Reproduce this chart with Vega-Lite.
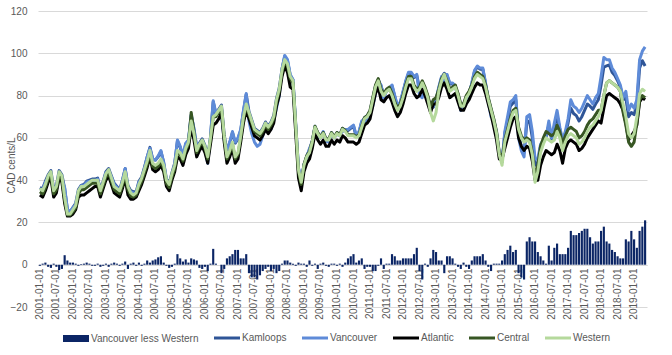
{
  "$schema": "https://vega.github.io/schema/vega-lite/v6.json",
  "width": 609,
  "height": 296,
  "autosize": {"type": "none"},
  "padding": {"left": 38, "top": 11, "right": 25, "bottom": 48},
  "background": "white",
  "config": {
    "view": {"stroke": null},
    "font": "Liberation Sans"
  },
  "data": {"values": [
    {"t":"2001-01-01","D":-0.5,"K":36.5,"V":35.5,"A":33,"C":34.5,"W":36},
    {"t":"2001-02-01","D":0.5,"K":36,"V":35.5,"A":32,"C":33.5,"W":35},
    {"t":"2001-03-01","D":1,"K":39.5,"V":39,"A":35,"C":36.5,"W":38},
    {"t":"2001-04-01","D":-1,"K":42.5,"V":41,"A":39,"C":40.5,"W":42},
    {"t":"2001-05-01","D":-1.5,"K":44.5,"V":42.5,"A":41,"C":42.5,"W":44},
    {"t":"2001-06-01","D":0.5,"K":36,"V":35.5,"A":32,"C":33.5,"W":35},
    {"t":"2001-07-01","D":-1,"K":37.5,"V":36,"A":34,"C":35.5,"W":37},
    {"t":"2001-08-01","D":-2.5,"K":44.5,"V":41.5,"A":41,"C":42.5,"W":44},
    {"t":"2001-09-01","D":-2,"K":42.5,"V":40,"A":39,"C":40.5,"W":42},
    {"t":"2001-10-01","D":4.5,"K":36,"V":36.5,"A":29,"C":30.5,"W":32},
    {"t":"2001-11-01","D":2,"K":26,"V":26,"A":23,"C":23.5,"W":24},
    {"t":"2001-12-01","D":1,"K":25,"V":25,"A":23,"C":23.5,"W":24},
    {"t":"2002-01-01","D":1,"K":27,"V":27,"A":24,"C":25,"W":26},
    {"t":"2002-02-01","D":0.5,"K":29,"V":28.5,"A":26,"C":27,"W":28},
    {"t":"2002-03-01","D":-0.5,"K":35.5,"V":34.5,"A":32,"C":33.5,"W":35},
    {"t":"2002-04-01","D":0.3,"K":37.5,"V":37.3,"A":33,"C":35.5,"W":37},
    {"t":"2002-05-01","D":0.5,"K":38,"V":37.5,"A":33,"C":35.5,"W":37},
    {"t":"2002-06-01","D":1,"K":39.5,"V":39,"A":34,"C":36.5,"W":38},
    {"t":"2002-07-01","D":0.5,"K":40,"V":39.5,"A":35,"C":37.5,"W":39},
    {"t":"2002-08-01","D":-0.5,"K":40.5,"V":39.5,"A":36,"C":38.5,"W":40},
    {"t":"2002-09-01","D":-0.5,"K":40.5,"V":39.5,"A":37,"C":38.5,"W":40},
    {"t":"2002-10-01","D":0.5,"K":41,"V":40.5,"A":37,"C":38.5,"W":40},
    {"t":"2002-11-01","D":-1,"K":35.5,"V":34,"A":32,"C":33.5,"W":35},
    {"t":"2002-12-01","D":-0.5,"K":39.5,"V":38.5,"A":36,"C":37.5,"W":39},
    {"t":"2003-01-01","D":0.5,"K":44,"V":43.5,"A":40,"C":41.5,"W":43},
    {"t":"2003-02-01","D":-1,"K":45.5,"V":44,"A":42,"C":43.5,"W":45},
    {"t":"2003-03-01","D":0.5,"K":42,"V":41.5,"A":38,"C":39.5,"W":41},
    {"t":"2003-04-01","D":1,"K":38.5,"V":38,"A":34,"C":35.5,"W":37},
    {"t":"2003-05-01","D":0.5,"K":37,"V":36.5,"A":33,"C":34.5,"W":36},
    {"t":"2003-06-01","D":-0.5,"K":35.5,"V":34.5,"A":32,"C":33.5,"W":35},
    {"t":"2003-07-01","D":0.5,"K":40,"V":39.5,"A":36,"C":37.5,"W":39},
    {"t":"2003-08-01","D":1.5,"K":45.5,"V":45.5,"A":41,"C":42.5,"W":44},
    {"t":"2003-09-01","D":-2,"K":37.5,"V":35,"A":33,"C":35.5,"W":37},
    {"t":"2003-10-01","D":0.5,"K":35,"V":34.5,"A":31,"C":32.5,"W":34},
    {"t":"2003-11-01","D":1,"K":34.5,"V":34,"A":31,"C":32,"W":33},
    {"t":"2003-12-01","D":-0.5,"K":34.5,"V":33.5,"A":32,"C":33,"W":34},
    {"t":"2004-01-01","D":1,"K":39.5,"V":39,"A":35,"C":36.5,"W":38},
    {"t":"2004-02-01","D":-0.5,"K":41.5,"V":40.5,"A":38,"C":39.5,"W":41},
    {"t":"2004-03-01","D":0.5,"K":46,"V":45.5,"A":42,"C":43.5,"W":45},
    {"t":"2004-04-01","D":2,"K":51,"V":51,"A":46,"C":47.5,"W":49},
    {"t":"2004-05-01","D":1,"K":55.5,"V":55,"A":51,"C":52.5,"W":54},
    {"t":"2004-06-01","D":2,"K":50,"V":50,"A":45,"C":46.5,"W":48},
    {"t":"2004-07-01","D":2.5,"K":49.5,"V":49.5,"A":44,"C":45.5,"W":47},
    {"t":"2004-08-01","D":3.5,"K":51,"V":51.5,"A":45,"C":46.5,"W":48},
    {"t":"2004-09-01","D":4,"K":53.5,"V":54,"A":47,"C":48.5,"W":50},
    {"t":"2004-10-01","D":1,"K":48.5,"V":48,"A":44,"C":45.5,"W":47},
    {"t":"2004-11-01","D":-0.5,"K":40.5,"V":39.5,"A":37,"C":38.5,"W":40},
    {"t":"2004-12-01","D":-1.5,"K":38.5,"V":36.5,"A":35,"C":36.5,"W":38},
    {"t":"2005-01-01","D":-1,"K":43.5,"V":42,"A":40,"C":41.5,"W":43},
    {"t":"2005-02-01","D":0.5,"K":48,"V":47.5,"A":44,"C":45.5,"W":47},
    {"t":"2005-03-01","D":5,"K":58.5,"V":59,"A":51,"C":53,"W":54},
    {"t":"2005-04-01","D":3,"K":55.5,"V":56,"A":50,"C":52,"W":53},
    {"t":"2005-05-01","D":1.5,"K":51,"V":51.5,"A":47,"C":49,"W":50},
    {"t":"2005-06-01","D":2.5,"K":57,"V":57.5,"A":52,"C":54,"W":55},
    {"t":"2005-07-01","D":1,"K":58.5,"V":59,"A":55,"C":57,"W":58},
    {"t":"2005-08-01","D":3,"K":70.5,"V":71,"A":65,"C":72,"W":68},
    {"t":"2005-09-01","D":2.5,"K":64,"V":64.5,"A":59,"C":63,"W":62},
    {"t":"2005-10-01","D":2,"K":55.5,"V":56,"A":51,"C":53,"W":54},
    {"t":"2005-11-01","D":-1.5,"K":57.5,"V":55.5,"A":54,"C":56,"W":57},
    {"t":"2005-12-01","D":-2,"K":59.5,"V":57,"A":56,"C":58,"W":59},
    {"t":"2006-01-01","D":-1,"K":56.5,"V":55,"A":53,"C":55,"W":56},
    {"t":"2006-02-01","D":-3,"K":51.5,"V":48,"A":48,"C":50,"W":51},
    {"t":"2006-03-01","D":0.5,"K":60,"V":60.5,"A":57,"C":59,"W":60},
    {"t":"2006-04-01","D":7.5,"K":77,"V":77.5,"A":66,"C":70,"W":70},
    {"t":"2006-05-01","D":0.5,"K":71,"V":71.5,"A":67,"C":70,"W":71},
    {"t":"2006-06-01","D":0,"K":73.5,"V":73,"A":69,"C":72,"W":73},
    {"t":"2006-07-01","D":-4,"K":75.5,"V":71,"A":72,"C":74,"W":75},
    {"t":"2006-08-01","D":-2,"K":61.5,"V":59,"A":58,"C":60,"W":61},
    {"t":"2006-09-01","D":3,"K":53.5,"V":54,"A":48,"C":50,"W":51},
    {"t":"2006-10-01","D":4,"K":57.5,"V":58,"A":51,"C":53,"W":54},
    {"t":"2006-11-01","D":5,"K":62.5,"V":63,"A":55,"C":57,"W":58},
    {"t":"2006-12-01","D":7,"K":57.5,"V":58,"A":48,"C":50,"W":51},
    {"t":"2007-01-01","D":7,"K":59.5,"V":60,"A":50,"C":52,"W":53},
    {"t":"2007-02-01","D":3,"K":63.5,"V":64,"A":58,"C":60,"W":61},
    {"t":"2007-03-01","D":3,"K":72.5,"V":73,"A":67,"C":69,"W":70},
    {"t":"2007-04-01","D":5,"K":80.5,"V":81,"A":73,"C":75,"W":76},
    {"t":"2007-05-01","D":-4,"K":72.5,"V":68,"A":69,"C":71,"W":72},
    {"t":"2007-06-01","D":-6,"K":68.5,"V":62,"A":65,"C":67,"W":68},
    {"t":"2007-07-01","D":-6,"K":64.5,"V":58,"A":61,"C":63,"W":64},
    {"t":"2007-08-01","D":-7,"K":63.5,"V":56,"A":60,"C":62,"W":63},
    {"t":"2007-09-01","D":-5,"K":62.5,"V":57,"A":59,"C":61,"W":62},
    {"t":"2007-10-01","D":-3,"K":64.5,"V":61,"A":61,"C":63,"W":64},
    {"t":"2007-11-01","D":-2,"K":67.5,"V":65,"A":64,"C":66,"W":67},
    {"t":"2007-12-01","D":-1,"K":65.5,"V":64,"A":62,"C":64,"W":65},
    {"t":"2008-01-01","D":-3,"K":67.5,"V":64,"A":64,"C":66,"W":67},
    {"t":"2008-02-01","D":-2,"K":70.5,"V":68,"A":67,"C":69,"W":70},
    {"t":"2008-03-01","D":-4,"K":78.5,"V":74,"A":75,"C":77,"W":78},
    {"t":"2008-04-01","D":-3,"K":83.5,"V":80,"A":80,"C":82,"W":83},
    {"t":"2008-05-01","D":0.5,"K":92.5,"V":92.5,"A":89,"C":91,"W":92},
    {"t":"2008-06-01","D":2,"K":98.5,"V":99,"A":94,"C":96,"W":97},
    {"t":"2008-07-01","D":2,"K":96.5,"V":97,"A":91,"C":94,"W":95},
    {"t":"2008-08-01","D":1,"K":89.5,"V":90,"A":84,"C":88,"W":89},
    {"t":"2008-09-01","D":0.5,"K":87.5,"V":87.5,"A":83,"C":86,"W":87},
    {"t":"2008-10-01","D":-0.5,"K":66.5,"V":65.5,"A":62,"C":65,"W":66},
    {"t":"2008-11-01","D":1,"K":45.5,"V":46,"A":41,"C":44,"W":45},
    {"t":"2008-12-01","D":0.5,"K":39.5,"V":39.5,"A":35,"C":38,"W":39},
    {"t":"2009-01-01","D":0.5,"K":47,"V":47.5,"A":44,"C":47.5,"W":47},
    {"t":"2009-02-01","D":-1,"K":51.5,"V":50,"A":48,"C":51.5,"W":51},
    {"t":"2009-03-01","D":2,"K":54.5,"V":55,"A":50,"C":53.5,"W":53},
    {"t":"2009-04-01","D":-0.5,"K":58.5,"V":57.5,"A":55,"C":58.5,"W":58},
    {"t":"2009-05-01","D":0.5,"K":65,"V":65.5,"A":62,"C":65.5,"W":65},
    {"t":"2009-06-01","D":-2,"K":62.5,"V":60,"A":59,"C":62.5,"W":62},
    {"t":"2009-07-01","D":0.5,"K":60,"V":60.5,"A":57,"C":60.5,"W":60},
    {"t":"2009-08-01","D":1,"K":62.5,"V":63,"A":59,"C":62.5,"W":62},
    {"t":"2009-09-01","D":-0.5,"K":59.5,"V":58.5,"A":56,"C":59.5,"W":59},
    {"t":"2009-10-01","D":-1,"K":59.5,"V":58,"A":56,"C":59.5,"W":59},
    {"t":"2009-11-01","D":0.5,"K":62,"V":62.5,"A":59,"C":62.5,"W":62},
    {"t":"2009-12-01","D":0.5,"K":60,"V":60.5,"A":57,"C":60.5,"W":60},
    {"t":"2010-01-01","D":-0.5,"K":62.5,"V":61.5,"A":59,"C":62.5,"W":62},
    {"t":"2010-02-01","D":0.5,"K":61,"V":61.5,"A":58,"C":61.5,"W":61},
    {"t":"2010-03-01","D":-1,"K":64.5,"V":63,"A":61,"C":64.5,"W":64},
    {"t":"2010-04-01","D":1,"K":63.5,"V":64,"A":60,"C":63.5,"W":63},
    {"t":"2010-05-01","D":3,"K":63.5,"V":64,"A":58,"C":61.5,"W":61},
    {"t":"2010-06-01","D":4,"K":64.5,"V":65,"A":58,"C":61.5,"W":61},
    {"t":"2010-07-01","D":5,"K":65.5,"V":66,"A":58,"C":61.5,"W":61},
    {"t":"2010-08-01","D":1,"K":60.5,"V":61,"A":57,"C":60.5,"W":60},
    {"t":"2010-09-01","D":2,"K":62.5,"V":63,"A":58,"C":61.5,"W":61},
    {"t":"2010-10-01","D":3,"K":67.5,"V":68,"A":62,"C":65.5,"W":65},
    {"t":"2010-11-01","D":-2,"K":69.5,"V":67,"A":66,"C":69.5,"W":69},
    {"t":"2010-12-01","D":-1,"K":70.5,"V":69,"A":67,"C":70.5,"W":70},
    {"t":"2011-01-01","D":-1,"K":72.5,"V":71,"A":69,"C":73,"W":72},
    {"t":"2011-02-01","D":-3,"K":78.5,"V":75,"A":75,"C":79,"W":78},
    {"t":"2011-03-01","D":-3,"K":84.5,"V":81,"A":81,"C":85,"W":84},
    {"t":"2011-04-01","D":-0.5,"K":87.5,"V":86.5,"A":84,"C":88,"W":87},
    {"t":"2011-05-01","D":3,"K":84.5,"V":85,"A":78,"C":83,"W":82},
    {"t":"2011-06-01","D":-2,"K":80.5,"V":78,"A":77,"C":81,"W":80},
    {"t":"2011-07-01","D":0.5,"K":82,"V":82.5,"A":79,"C":83,"W":82},
    {"t":"2011-08-01","D":0.5,"K":83,"V":83.5,"A":80,"C":84,"W":83},
    {"t":"2011-09-01","D":5,"K":84.5,"V":85,"A":77,"C":81,"W":80},
    {"t":"2011-10-01","D":4,"K":79.5,"V":80,"A":73,"C":77,"W":76},
    {"t":"2011-11-01","D":2,"K":74.5,"V":75,"A":70,"C":74,"W":73},
    {"t":"2011-12-01","D":2,"K":76.5,"V":77,"A":72,"C":76,"W":75},
    {"t":"2012-01-01","D":3,"K":81.5,"V":82,"A":76,"C":80,"W":79},
    {"t":"2012-02-01","D":3,"K":86.5,"V":87,"A":81,"C":85,"W":84},
    {"t":"2012-03-01","D":3,"K":90.5,"V":91,"A":85,"C":89,"W":88},
    {"t":"2012-04-01","D":3,"K":90.5,"V":91,"A":85,"C":89,"W":88},
    {"t":"2012-05-01","D":5,"K":88.5,"V":89,"A":81,"C":85,"W":84},
    {"t":"2012-06-01","D":8,"K":89.5,"V":90,"A":79,"C":83,"W":82},
    {"t":"2012-07-01","D":-3,"K":83.5,"V":80,"A":80,"C":84,"W":83},
    {"t":"2012-08-01","D":-7,"K":86.5,"V":79,"A":83,"C":87,"W":86},
    {"t":"2012-09-01","D":0.5,"K":83,"V":83.5,"A":80,"C":84,"W":83},
    {"t":"2012-10-01","D":-1,"K":79.5,"V":78,"A":76,"C":80,"W":79},
    {"t":"2012-11-01","D":3,"K":74.5,"V":75,"A":72,"C":75,"W":72},
    {"t":"2012-12-01","D":7,"K":74.5,"V":75,"A":76,"C":78,"W":68},
    {"t":"2013-01-01","D":6,"K":77.5,"V":78,"A":76,"C":79,"W":72},
    {"t":"2013-02-01","D":2,"K":83.5,"V":84,"A":79,"C":83,"W":82},
    {"t":"2013-03-01","D":2,"K":88.5,"V":89,"A":84,"C":88,"W":87},
    {"t":"2013-04-01","D":-4,"K":90.5,"V":86,"A":86,"C":90,"W":90},
    {"t":"2013-05-01","D":4,"K":89.5,"V":90,"A":83,"C":87,"W":86},
    {"t":"2013-06-01","D":4,"K":85.5,"V":86,"A":79,"C":83,"W":82},
    {"t":"2013-07-01","D":3,"K":85.5,"V":86,"A":80,"C":84,"W":83},
    {"t":"2013-08-01","D":0.5,"K":84,"V":84.5,"A":81,"C":85,"W":84},
    {"t":"2013-09-01","D":-1,"K":80.5,"V":79,"A":77,"C":81,"W":80},
    {"t":"2013-10-01","D":-2,"K":75.5,"V":73,"A":73,"C":76,"W":75},
    {"t":"2013-11-01","D":1,"K":75.5,"V":76,"A":73,"C":76,"W":75},
    {"t":"2013-12-01","D":-1,"K":79.5,"V":78,"A":76,"C":80,"W":79},
    {"t":"2014-01-01","D":-2,"K":81.5,"V":79,"A":78,"C":82,"W":81},
    {"t":"2014-02-01","D":2,"K":85.5,"V":86,"A":81,"C":85,"W":84},
    {"t":"2014-03-01","D":4,"K":91.5,"V":92,"A":84,"C":89,"W":88},
    {"t":"2014-04-01","D":4,"K":93.5,"V":94,"A":86,"C":91,"W":90},
    {"t":"2014-05-01","D":4,"K":92.5,"V":93,"A":85,"C":90,"W":89},
    {"t":"2014-06-01","D":5,"K":92.5,"V":93,"A":85,"C":89,"W":88},
    {"t":"2014-07-01","D":2,"K":85.5,"V":86,"A":81,"C":85,"W":84},
    {"t":"2014-08-01","D":-1,"K":78.5,"V":77,"A":76,"C":79,"W":78},
    {"t":"2014-09-01","D":-3,"K":73.5,"V":70,"A":71,"C":74,"W":73},
    {"t":"2014-10-01","D":0.5,"K":68,"V":68.5,"A":65,"C":69,"W":68},
    {"t":"2014-11-01","D":0.5,"K":62,"V":62.5,"A":59,"C":63,"W":62},
    {"t":"2014-12-01","D":0.5,"K":52,"V":52.5,"A":50,"C":53,"W":52},
    {"t":"2015-01-01","D":2,"K":48.5,"V":49,"A":50,"C":50,"W":47},
    {"t":"2015-02-01","D":5,"K":62,"V":63,"A":55,"C":59,"W":58},
    {"t":"2015-03-01","D":7,"K":68,"V":70,"A":60,"C":64,"W":63},
    {"t":"2015-04-01","D":9,"K":75,"V":77,"A":65,"C":69,"W":68},
    {"t":"2015-05-01","D":6,"K":76.5,"V":78,"A":69,"C":73,"W":72},
    {"t":"2015-06-01","D":7,"K":78,"V":80,"A":70,"C":74,"W":73},
    {"t":"2015-07-01","D":-4,"K":62,"V":60,"A":60,"C":65,"W":64},
    {"t":"2015-08-01","D":-6,"K":56,"V":54,"A":56,"C":61,"W":60},
    {"t":"2015-09-01","D":-7,"K":53,"V":51,"A":54,"C":59,"W":58},
    {"t":"2015-10-01","D":11,"K":67,"V":70,"A":56,"C":60,"W":59},
    {"t":"2015-11-01","D":13,"K":68,"V":71,"A":55,"C":59,"W":58},
    {"t":"2015-12-01","D":11,"K":60,"V":63,"A":49,"C":53,"W":52},
    {"t":"2016-01-01","D":11,"K":47,"V":50,"A":40,"C":41,"W":39},
    {"t":"2016-02-01","D":6,"K":48.5,"V":50,"A":40,"C":47,"W":44},
    {"t":"2016-03-01","D":4,"K":56,"V":57,"A":47,"C":56,"W":53},
    {"t":"2016-04-01","D":2,"K":58.5,"V":59,"A":51,"C":60,"W":57},
    {"t":"2016-05-01","D":0.5,"K":60.5,"V":60.5,"A":54,"C":63,"W":60},
    {"t":"2016-06-01","D":9,"K":66,"V":68,"A":53,"C":62,"W":59},
    {"t":"2016-07-01","D":2,"K":59.5,"V":60,"A":52,"C":61,"W":58},
    {"t":"2016-08-01","D":8,"K":65,"V":67,"A":53,"C":62,"W":59},
    {"t":"2016-09-01","D":10,"K":70.5,"V":73,"A":57,"C":66,"W":63},
    {"t":"2016-10-01","D":5,"K":64,"V":65,"A":54,"C":63,"W":60},
    {"t":"2016-11-01","D":5,"K":58,"V":59,"A":48,"C":57,"W":54},
    {"t":"2016-12-01","D":5,"K":62,"V":63,"A":55,"C":61,"W":58},
    {"t":"2017-01-01","D":8,"K":67,"V":69,"A":58,"C":64,"W":61},
    {"t":"2017-02-01","D":16,"K":74,"V":78,"A":59,"C":65,"W":62},
    {"t":"2017-03-01","D":14,"K":71.5,"V":75,"A":58,"C":64,"W":61},
    {"t":"2017-04-01","D":14,"K":70.5,"V":74,"A":57,"C":63,"W":60},
    {"t":"2017-05-01","D":15,"K":68,"V":72,"A":54,"C":60,"W":57},
    {"t":"2017-06-01","D":16,"K":70,"V":74,"A":55,"C":61,"W":58},
    {"t":"2017-07-01","D":17,"K":73,"V":77,"A":57,"C":63,"W":60},
    {"t":"2017-08-01","D":17,"K":76,"V":80,"A":60,"C":66,"W":63},
    {"t":"2017-09-01","D":13,"K":75,"V":78,"A":62,"C":68,"W":65},
    {"t":"2017-10-01","D":10,"K":73.5,"V":76,"A":64,"C":69,"W":66},
    {"t":"2017-11-01","D":11,"K":76,"V":79,"A":66,"C":71,"W":68},
    {"t":"2017-12-01","D":11,"K":78,"V":81,"A":68,"C":73,"W":70},
    {"t":"2018-01-01","D":16,"K":85,"V":89,"A":67,"C":73,"W":73},
    {"t":"2018-02-01","D":18,"K":93.5,"V":98,"A":74,"C":80,"W":80},
    {"t":"2018-03-01","D":11,"K":94,"V":97,"A":80,"C":86,"W":86},
    {"t":"2018-04-01","D":10,"K":94.5,"V":97,"A":81,"C":87,"W":87},
    {"t":"2018-05-01","D":7,"K":91,"V":93,"A":80,"C":86,"W":86},
    {"t":"2018-06-01","D":6,"K":89.5,"V":91,"A":79,"C":85,"W":85},
    {"t":"2018-07-01","D":4,"K":87,"V":88,"A":78,"C":84,"W":84},
    {"t":"2018-08-01","D":3,"K":84,"V":85,"A":76,"C":82,"W":82},
    {"t":"2018-09-01","D":3,"K":78,"V":79,"A":73,"C":72,"W":76},
    {"t":"2018-10-01","D":12,"K":79,"V":82,"A":67,"C":66,"W":70},
    {"t":"2018-11-01","D":11,"K":70,"V":73,"A":59,"C":58,"W":62},
    {"t":"2018-12-01","D":16,"K":72,"V":76,"A":61,"C":56,"W":60},
    {"t":"2019-01-01","D":12,"K":71,"V":74,"A":63,"C":58,"W":62},
    {"t":"2019-02-01","D":8,"K":76,"V":78,"A":66,"C":67,"W":70},
    {"t":"2019-03-01","D":16,"K":93,"V":97,"A":77,"C":78,"W":81},
    {"t":"2019-04-01","D":18,"K":96.5,"V":101,"A":79,"C":80,"W":83},
    {"t":"2019-05-01","D":21,"K":94,"V":103,"A":78,"C":79,"W":82}
  ]},
  "transform": [
    {"fold": ["D", "K", "V", "A", "C", "W"], "as": ["s", "v"]}
  ],
  "encoding": {
    "x": {
      "field": "t", "type": "ordinal",
      "scale": {"paddingInner": 0.22, "paddingOuter": 0.3},
      "axis": {
        "title": null,
        "values": ["2001-01-01","2001-07-01","2002-01-01","2002-07-01","2003-01-01","2003-07-01","2004-01-01","2004-07-01","2005-01-01","2005-07-01","2006-01-01","2006-07-01","2007-01-01","2007-07-01","2008-01-01","2008-07-01","2009-01-01","2009-07-01","2010-01-01","2010-07-01","2011-01-01","2011-07-01","2012-01-01","2012-07-01","2013-01-01","2013-07-01","2014-01-01","2014-07-01","2015-01-01","2015-07-01","2016-01-01","2016-07-01","2017-01-01","2017-07-01","2018-01-01","2018-07-01","2019-01-01"],
        "labelAngle": -90,
        "labelFontSize": 10,
        "labelColor": "#595959",
        "labelOverlap": false,
        "labelPadding": 3,
        "ticks": false,
        "domain": true,
        "domainColor": "#D9D9D9",
        "offset": -42,
        "grid": false
      }
    },
    "y": {
      "field": "v", "type": "quantitative",
      "scale": {"domain": [-20, 120], "nice": false, "zero": false},
      "axis": {
        "values": [-20, 0, 20, 40, 60, 80, 100, 120],
        "grid": true,
        "gridColor": "#D9D9D9",
        "domain": false,
        "ticks": false,
        "labelPadding": 11,
        "labelFontSize": 10,
        "labelColor": "#595959",
        "title": "CAD cents/L",
        "titleFontSize": 10,
        "titleFontWeight": "normal",
        "titleColor": "#595959",
        "titleX": -22,
        "titleY": 154
      }
    },
    "color": {
      "field": "s", "type": "nominal",
      "scale": {
        "domain": ["D", "K", "V", "A", "C", "W"],
        "range": ["#0B2565", "#2F5597", "#5E8BD8", "#000000", "#375623", "#B5D99C"]
      },
      "legend": {
        "title": null,
        "orient": "none",
        "direction": "horizontal",
        "legendX": 33,
        "legendY": 322,
        "symbolSize": 676,
        "labelFontSize": 10,
        "labelColor": "#595959",
        "labelOffset": 10,
        "columnPadding": 9,
        "labelExpr": "datum.value === 'D' ? 'Vancouver less Western' : datum.value === 'K' ? 'Kamloops' : datum.value === 'V' ? 'Vancouver' : datum.value === 'A' ? 'Atlantic' : datum.value === 'C' ? 'Central' : 'Western'",
        "encode": {
          "symbols": {
            "update": {
              "shape": {"signal": "datum.value === 'D' ? 'M-1,-0.27H1V0.27H-1Z' : 'stroke'"},
              "fill": {"scale": "color", "field": "value"},
              "stroke": {"scale": "color", "field": "value"},
              "strokeWidth": {"signal": "datum.value === 'D' ? 0 : 3"},
              "opacity": {"value": 1}
            }
          }
        }
      }
    }
  },
  "layer": [
    {"transform": [{"filter": "datum.s === 'D'"}], "mark": {"type": "bar"}},
    {"transform": [{"filter": "datum.s === 'K'"}], "mark": {"type": "line", "strokeWidth": 3, "strokeJoin": "round"}},
    {"transform": [{"filter": "datum.s === 'V'"}], "mark": {"type": "line", "strokeWidth": 3, "strokeJoin": "round"}},
    {"transform": [{"filter": "datum.s === 'A'"}], "mark": {"type": "line", "strokeWidth": 3, "strokeJoin": "round"}},
    {"transform": [{"filter": "datum.s === 'C'"}], "mark": {"type": "line", "strokeWidth": 3, "strokeJoin": "round"}},
    {"transform": [{"filter": "datum.s === 'W'"}], "mark": {"type": "line", "strokeWidth": 3, "strokeJoin": "round"}}
  ]
}
